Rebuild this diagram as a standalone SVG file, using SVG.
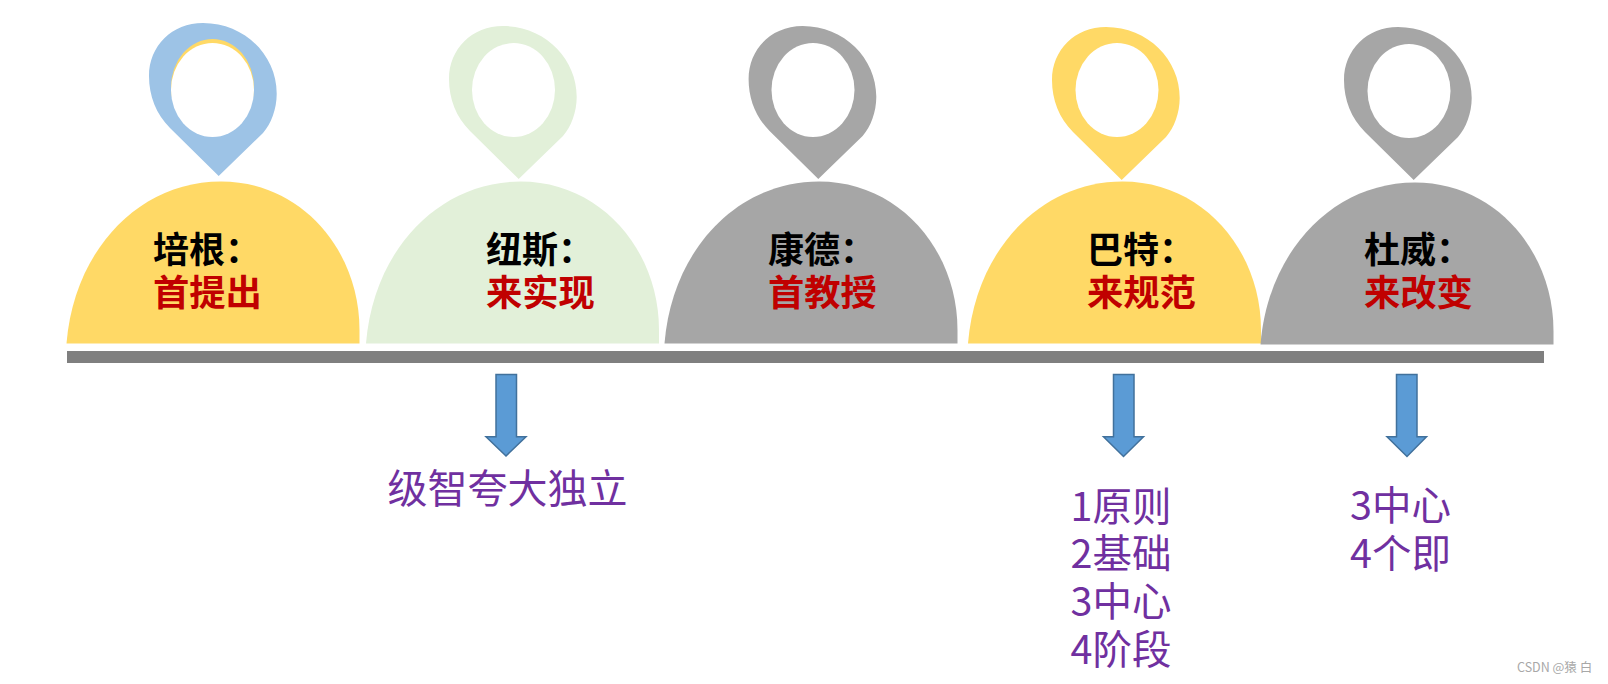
<svg xmlns="http://www.w3.org/2000/svg" width="1608" height="684" viewBox="0 0 1608 684">
<style>
.t{font-family:"Noto Sans CJK SC","Liberation Sans",sans-serif}
.name{font-size:36px;font-weight:700;fill:#000}
.role{font-size:36.300px;font-weight:700;fill:#C00000}
.item{font-size:39.500px;fill:#7030A0}
.wide{font-size:40px}
.arrow{fill:#5B9BD5;stroke:#41719C;stroke-width:1.500}
.hole{fill:#fff}
.y{fill:#FFD966}.g{fill:#E2F0D9}.k{fill:#A6A6A6}.b{fill:#9DC3E6}
</style>
<defs>
<path id="pin" d="M218.700 176L170 128C156 114 149 96 149 76C149 46 172 23 203 23C245 23 277 56 276.700 94C276.700 109 271 124 263 133Z"/>
<path id="dome" d="M66.500 343.500C74 250 139 181.500 221 181.500C301 181.500 359.500 250 359.500 330L359.500 343.500Z"/>
</defs>
<rect width="1608" height="684" fill="#fff"/>
<g id="node-bacon">
<use href="#dome" class="y"/>
<use href="#pin" class="b"/>
<ellipse cx="212.500" cy="87" rx="41.500" ry="48" class="y"/>
<ellipse cx="212.500" cy="90" rx="41.500" ry="47" class="hole"/>
<text class="t" x="153" y="263"><tspan class="name">培根：</tspan><tspan class="role" x="153" y="306">首提出</tspan></text>
</g>
<g id="node-newman">
<use href="#dome" class="g" x="299.500"/>
<use href="#pin" class="g" x="300" y="3"/>
<ellipse cx="513.500" cy="90" rx="41.500" ry="47" class="hole"/>
<text class="t" x="486" y="263"><tspan class="name">纽斯：</tspan><tspan class="role" x="486" y="306">来实现</tspan></text>
</g>
<g id="node-kant">
<use href="#dome" class="k" x="598"/>
<use href="#pin" class="k" x="599.600" y="3"/>
<ellipse cx="813" cy="90" rx="41.500" ry="47" class="hole"/>
<text class="t" x="768" y="263"><tspan class="name">康德：</tspan><tspan class="role" x="768" y="306">首教授</tspan></text>
</g>
<g id="node-barth">
<use href="#dome" class="y" x="901.500"/>
<use href="#pin" class="y" x="903" y="4"/>
<ellipse cx="1117" cy="90" rx="41.500" ry="47" class="hole"/>
<text class="t" x="1087" y="263"><tspan class="name">巴特：</tspan><tspan class="role" x="1087" y="306">来规范</tspan></text>
</g>
<g id="node-dewey">
<use href="#dome" class="k" x="1194" y="1"/>
<use href="#pin" class="k" x="1195" y="4"/>
<ellipse cx="1409" cy="91" rx="41.500" ry="47" class="hole"/>
<text class="t" x="1364" y="263"><tspan class="name">杜威：</tspan><tspan class="role" x="1364" y="306">来改变</tspan></text>
</g>
<g id="connectors">
<rect x="67" y="351" width="1477" height="12" fill="#7F7F7F"/>
<path class="arrow" d="M496 374.500H516.500V436.700H526L506 456L486 436.700H496Z"/>
<path class="arrow" d="M1113.500 374.500H1134V436.700H1143.500L1123.500 456.500L1103.500 436.700H1113.500Z"/>
<path class="arrow" d="M1396.500 374.500H1417V436.700H1426.500L1407 456.500L1387 436.700H1396.500Z"/>
</g>
<g id="label-newman"><text class="t item wide" x="387.500" y="503">级智夸大独立</text></g>
<g id="label-barth">
<text class="t item" x="1070.500" y="521">1原则<tspan x="1070.500" y="568">2基础</tspan><tspan x="1070.500" y="616">3中心</tspan><tspan x="1070.500" y="664">4阶段</tspan></text>
</g>
<g id="label-dewey">
<text class="t item" x="1350" y="520">3中心<tspan x="1350" y="568">4个即</tspan></text>
</g>
<text class="t" x="1517" y="672" font-size="12.500" fill="#A8A8A8">CSDN @猿 白</text>
</svg>
